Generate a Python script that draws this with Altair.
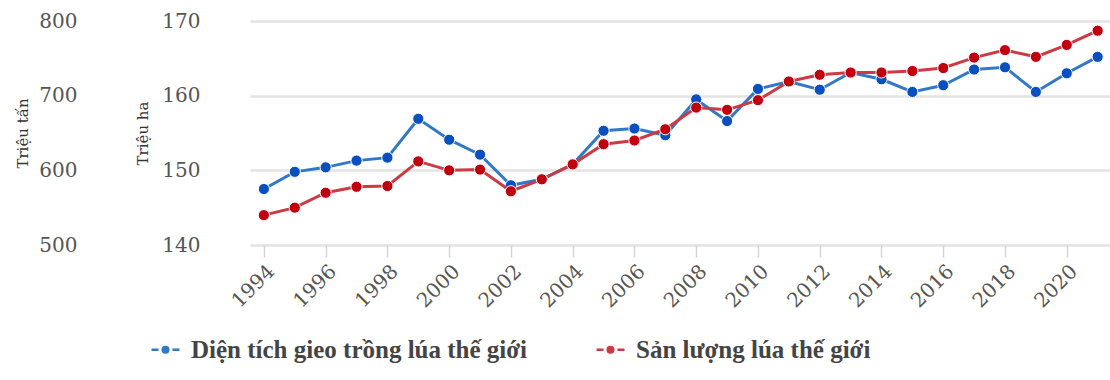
import altair as alt
import pandas as pd

years = list(range(1994, 2022))
area = [147.5, 149.8, 150.4, 151.3, 151.7, 156.9, 154.1, 152.1, 148.0, 148.8,
        150.8, 155.3, 155.6, 154.7, 159.5, 156.6, 160.9, 161.9, 160.8, 163.1,
        162.2, 160.5, 161.4, 163.5, 163.8, 160.5, 163.0, 165.2]
prod = [540, 550, 570, 578, 579, 612, 600, 601, 572, 588,
        608, 635, 640, 655, 684, 681, 694, 719, 728, 731,
        731, 733, 737, 751, 761, 752, 768, 787]

s_area = "Diện tích gieo trồng lúa thế giới"
s_prod = "Sản lượng lúa thế giới"
series_names = [s_area, s_prod]
line_colors = ["#3179c6", "#cc3a44"]
dot_colors = ["#0a4fc0", "#c0000e"]
x_ticks = list(range(1994, 2021, 2))
ha_ticks = [140, 150, 160, 170]
tan_ticks = [500, 600, 700, 800]

df_area = pd.DataFrame({"year": years, "value": area, "series": s_area})
df_prod = pd.DataFrame({"year": years, "value": prod, "series": s_prod})

legend_path = ("M-1,0L-0.5,0M0.5,0L1,0"
               "M-0.2,0A0.2,0.2 0 1,0 0.2,0A0.2,0.2 0 1,0 -0.2,0"
               "M-0.07,0A0.07,0.07 0 1,0 0.07,0A0.07,0.07 0 1,0 -0.07,0")

x_enc = alt.X(
    "year:Q",
    scale=alt.Scale(domain=[1993.55, 2021.4], nice=False, zero=False),
    axis=alt.Axis(values=x_ticks, format="d", labelAngle=-45, labelAlign="right",
                  labelBaseline="top", tickSize=12, tickColor="#d4d4d4", tickWidth=1.5,
                  domain=False, grid=False, title=None, labelFont="DejaVu Serif",
                  labelFontSize=20, labelColor="#555555", labelPadding=4),
)

color_enc = alt.Color(
    "series:N",
    scale=alt.Scale(domain=series_names, range=line_colors),
    legend=alt.Legend(title=None, orient="none", legendX=-100, legendY=313,
                      direction="horizontal", symbolType=legend_path, symbolSize=784,
                      symbolStrokeWidth=2.5, labelFont="Liberation Serif",
                      labelFontWeight="bold", labelFontSize=25, labelColor="#444444",
                      labelOffset=10, columnPadding=63, padding=0, labelLimit=0),
)
fill_enc = alt.Fill("series:N", scale=alt.Scale(domain=series_names, range=dot_colors),
                    legend=None)

y_ha = alt.Y(
    "value:Q",
    scale=alt.Scale(domain=[140, 170], nice=False, zero=False),
    axis=alt.Axis(orient="left", values=ha_ticks, ticks=False, domain=False,
                  labelPadding=50, labelFont="DejaVu Serif", labelFontSize=20,
                  labelColor="#555555", grid=True, gridColor="#e3e3e3", gridWidth=2.5,
                  title="Triệu ha", titleFont="DejaVu Serif", titleFontSize=15,
                  titleFontWeight="normal", titleColor="#333333", titlePadding=11),
)
y_tan = alt.Y(
    "value:Q",
    scale=alt.Scale(domain=[500, 800], nice=False, zero=False),
    axis=alt.Axis(orient="left", values=tan_ticks, ticks=False, domain=False, offset=165,
                  labelPadding=8, labelFont="DejaVu Serif", labelFontSize=20,
                  labelColor="#555555", grid=False,
                  title="Triệu tấn", titleFont="DejaVu Serif", titleFontSize=15,
                  titleFontWeight="normal", titleColor="#333333", titlePadding=8),
)

base_a = alt.Chart(df_area)
layer_a = alt.layer(
    base_a.mark_line(strokeWidth=3).encode(x=x_enc, y=y_ha, color=color_enc),
    base_a.mark_point(filled=True, size=125, stroke="white", strokeWidth=1, opacity=1)
    .encode(x=x_enc, y=y_ha, fill=fill_enc),
)
base_p = alt.Chart(df_prod)
layer_p = alt.layer(
    base_p.mark_line(strokeWidth=3).encode(x=x_enc, y=y_tan, color=color_enc),
    base_p.mark_point(filled=True, size=125, stroke="white", strokeWidth=1, opacity=1)
    .encode(x=x_enc, y=y_tan, fill=fill_enc),
)

chart = (
    alt.layer(layer_a, layer_p)
    .resolve_scale(y="independent")
    .properties(width=860, height=224,
                autosize=alt.AutoSizeParams(type="none"),
                padding={"left": 250, "top": 21, "right": 0, "bottom": 135},
                view=alt.ViewBackground(stroke="transparent", strokeWidth=0))
    .configure_view(strokeWidth=0, stroke="transparent")
    .configure_axis(domain=False)
    .configure_axisX(grid=False, domain=False)
    .configure_axisY(domain=False, ticks=False)
    .configure(background="white")
)

chart.save("out.html", embed_options={"renderer": "svg", "actions": False})
